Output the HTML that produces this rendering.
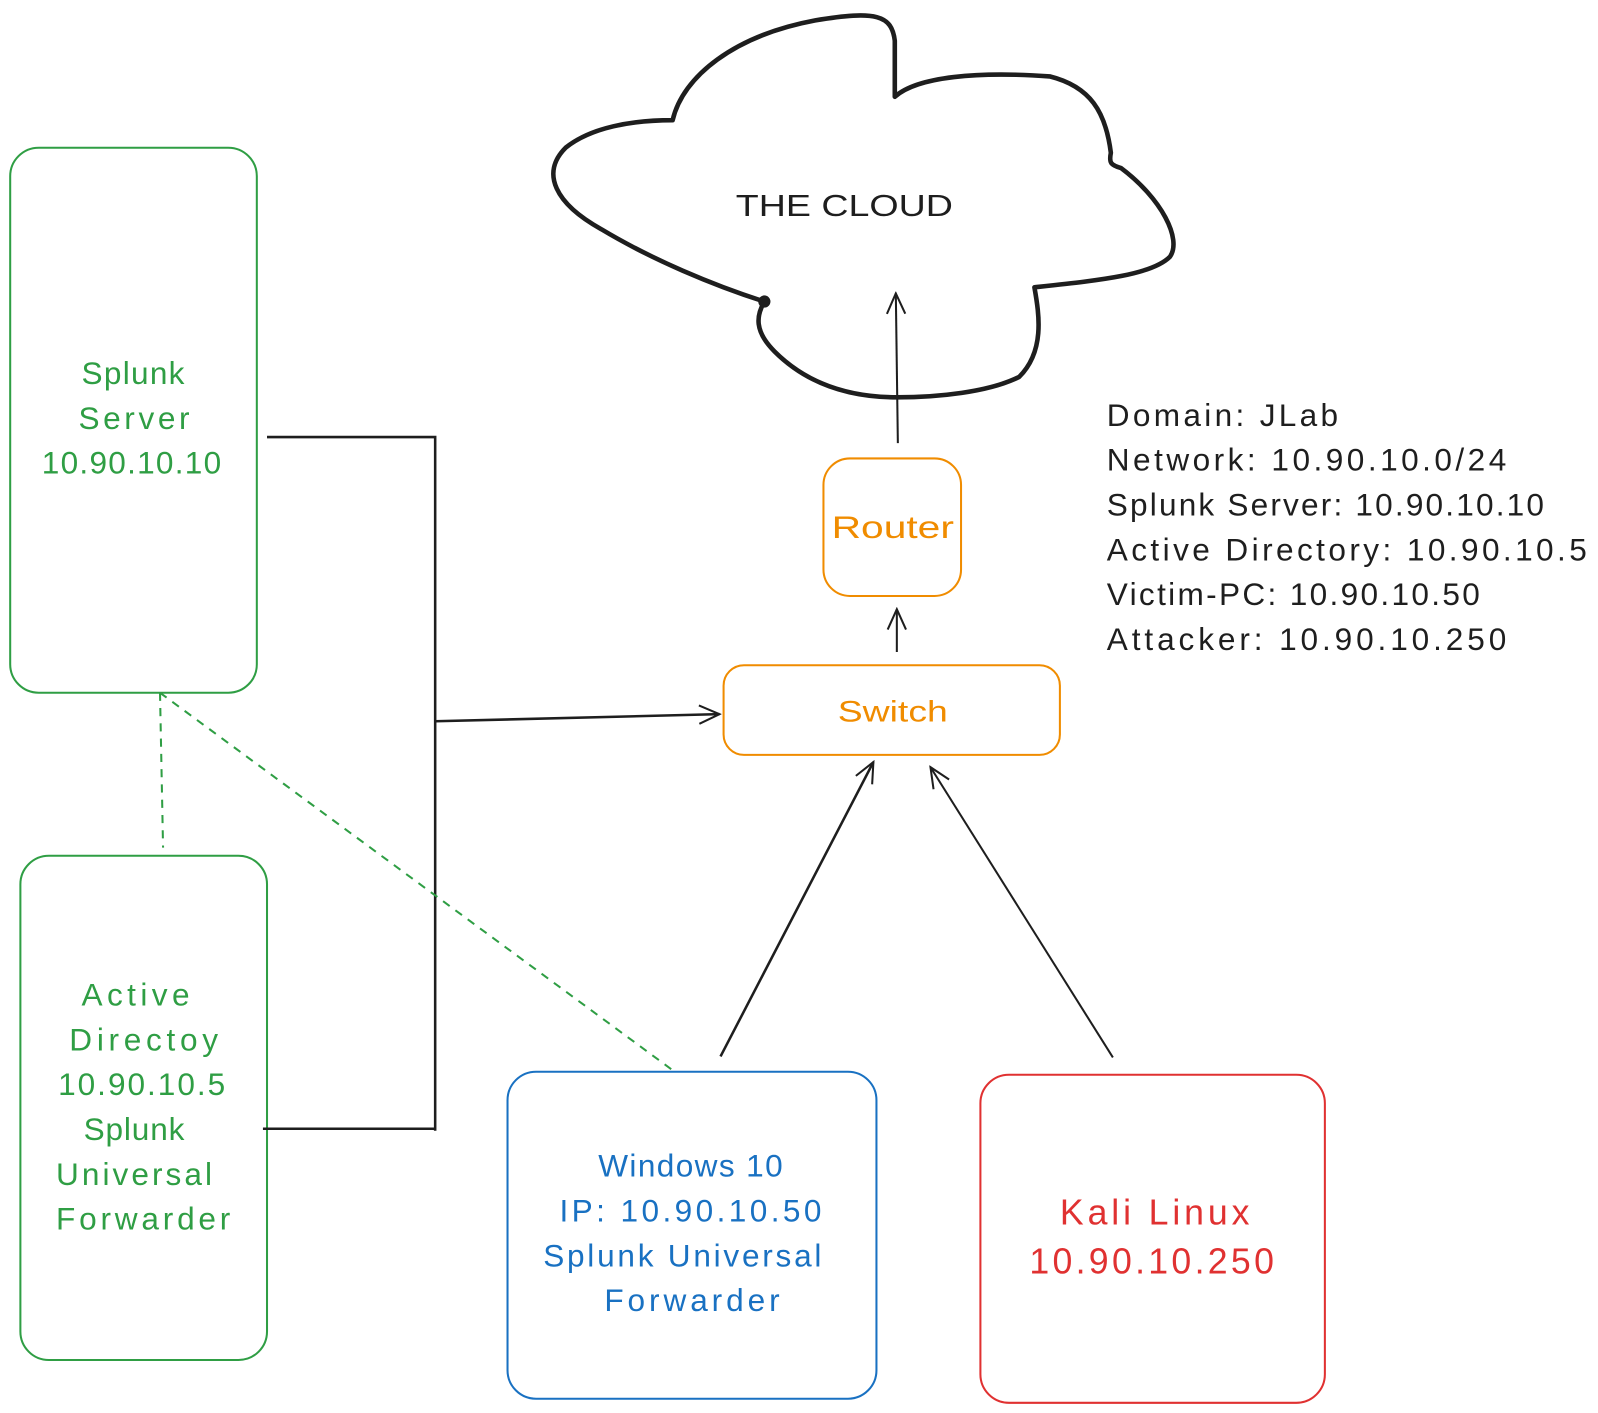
<!DOCTYPE html>
<html><head><meta charset="utf-8"><style>
html,body{margin:0;padding:0;background:#fff;}
svg{display:block;}
text{font-family:"Liberation Sans",sans-serif;}
</style></head><body>
<svg width="1598" height="1413" viewBox="0 0 1568 1387" preserveAspectRatio="none" xmlns="http://www.w3.org/2000/svg">
<defs>
<marker id="ah" markerWidth="24" markerHeight="24" refX="22" refY="12" orient="auto" markerUnits="userSpaceOnUse">
<path d="M2,3 L22,12 L2,21" fill="none" stroke="#1e1e1e" stroke-width="2"/>
</marker>
</defs>
<!-- cloud -->
<path d="M750,296 C700,280 640,255 590,225 C545,200 530,170 555,145 C580,125 620,118 660,118 C670,75 720,35 800,20 C860,10 875,15 878,40 L878,95 C900,75 960,70 1030,75 C1070,85 1085,110 1090,150 C1088,160 1090,162 1100,165 C1140,195 1160,235 1148,252 C1130,270 1080,275 1015,282 C1020,310 1025,345 1000,370 C970,385 920,390 880,390 C830,390 790,375 760,345 C740,325 742,310 750,296 Z" fill="none" stroke="#1e1e1e" stroke-width="4.5" stroke-linejoin="round"/>
<circle cx="750" cy="296" r="6" fill="#1e1e1e"/>
<text x="722" y="212" font-size="30" fill="#1e1e1e" textLength="213" lengthAdjust="spacingAndGlyphs">THE CLOUD</text>

<!-- boxes -->
<rect x="10" y="145" width="242" height="535" rx="28" fill="none" stroke="#2f9e44" stroke-width="2"/>
<rect x="20" y="840" width="242" height="495" rx="28" fill="none" stroke="#2f9e44" stroke-width="2"/>
<rect x="498" y="1052" width="362" height="321" rx="28" fill="none" stroke="#1971c2" stroke-width="2"/>
<rect x="962" y="1055" width="338" height="322" rx="28" fill="none" stroke="#e03131" stroke-width="2"/>
<rect x="808" y="450" width="135" height="135" rx="26" fill="none" stroke="#f08c00" stroke-width="2"/>
<rect x="710" y="653" width="330" height="88" rx="20" fill="none" stroke="#f08c00" stroke-width="2"/>

<!-- texts -->
<g font-size="31" fill="#2f9e44" lengthAdjust="spacingAndGlyphs">
<text x="80" y="377" textLength="101">Splunk</text>
<text x="77" y="421" textLength="109">Server</text>
<text x="41" y="465" textLength="176">10.90.10.10</text>
<text x="80" y="987" textLength="106">Active</text>
<text x="68" y="1031" textLength="146">Directoy</text>
<text x="57" y="1075" textLength="164">10.90.10.5</text>
<text x="82" y="1119" textLength="99">Splunk</text>
<text x="55" y="1163" textLength="153">Universal</text>
<text x="55" y="1207" textLength="171">Forwarder</text>
</g>
<g font-size="31" fill="#1971c2" lengthAdjust="spacingAndGlyphs">
<text x="587" y="1155" textLength="181">Windows 10</text>
<text x="549" y="1199" textLength="257">IP: 10.90.10.50</text>
<text x="533" y="1243" textLength="273">Splunk Universal</text>
<text x="593" y="1287" textLength="172">Forwarder</text>
</g>
<g font-size="35" fill="#e03131" lengthAdjust="spacingAndGlyphs">
<text x="1040" y="1202" textLength="186">Kali Linux</text>
<text x="1010" y="1250" textLength="240">10.90.10.250</text>
</g>
<text x="816" y="528" font-size="31" fill="#f08c00" textLength="120" lengthAdjust="spacingAndGlyphs">Router</text>
<text x="822" y="708" font-size="29" fill="#f08c00" textLength="108" lengthAdjust="spacingAndGlyphs">Switch</text>
<g font-size="31" fill="#1e1e1e" lengthAdjust="spacingAndGlyphs">
<text x="1086" y="418" textLength="227">Domain: JLab</text>
<text x="1086" y="462" textLength="392">Network: 10.90.10.0/24</text>
<text x="1086" y="506" textLength="429">Splunk Server: 10.90.10.10</text>
<text x="1086" y="550" textLength="471">Active Directory: 10.90.10.5</text>
<text x="1086" y="594" textLength="366">Victim-PC: 10.90.10.50</text>
<text x="1086" y="638" textLength="392">Attacker: 10.90.10.250</text>
</g>

<!-- connectors -->
<g fill="none" stroke="#1e1e1e" stroke-width="2.5">
<polyline points="262,429 427,429 427,1110"/>
<line x1="258" y1="1108" x2="427" y2="1108"/>
<line x1="427" y1="708" x2="706" y2="701" marker-end="url(#ah)"/>
<line x1="880" y1="640" x2="880" y2="598" marker-end="url(#ah)" stroke-width="2"/>
<line x1="881" y1="435" x2="879" y2="288" marker-end="url(#ah)" stroke-width="2"/>
<line x1="707" y1="1037" x2="857" y2="748" marker-end="url(#ah)"/>
<line x1="1092" y1="1038" x2="913" y2="753" marker-end="url(#ah)" stroke-width="2"/>
</g>
<g fill="none" stroke="#2f9e44" stroke-width="2" stroke-dasharray="8,7">
<line x1="157" y1="680" x2="160" y2="832"/>
<line x1="157" y1="680" x2="662" y2="1052"/>
</g>
</svg>
</body></html>
